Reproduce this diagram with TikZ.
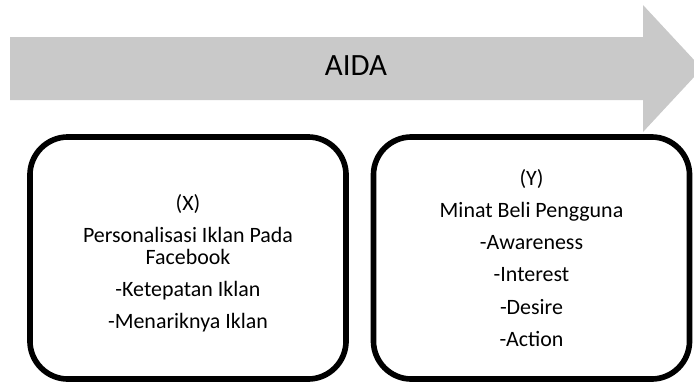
\documentclass[tikz,border=0pt]{standalone}
\usepackage{fontspec}
\setmainfont{Carlito}
\usetikzlibrary{positioning}
\definecolor{arrowgray}{RGB}{201,201,201}
\tikzset{ varbox/.style = { rectangle % variable box
        , draw = black
        , line width = 4pt
        , rounded corners = 0.95cm
        , minimum width = 7.9cm
        , minimum height = 6.05cm
        , align = center
        , font = \fontsize{15.6pt}{15.6pt}\selectfont
        }
        , title/.style = { rectangle % arrow title
        , font = \fontsize{22pt}{26pt}\selectfont
        }
        }

\begin{document}
\begin{tikzpicture}[x=0.025cm, y=-0.025cm,
        arrow_style/.style={fill=arrowgray, draw=none}]
        \clip (0,0) rectangle (694,382);

        % big process arrow
        \fill [arrow_style] (10,37) -- (643,37) -- (643,5) -- (702,68.5)
              -- (643,132) -- (643,100) -- (10,100) -- cycle;
        \node [title](aida) at (356,66) {AIDA};

        \node [varbox](x) at (188,258) {\rule{0pt}{19pt}(X)\\[7.2pt]
              Personalisasi Iklan Pada\\ Facebook\\[7.2pt]
              -Ketepatan Iklan\\[7.2pt]
              -Menariknya Iklan};
        \node [varbox](y) at (531.5,258) {(Y)\\[7.2pt]
              Minat Beli Pengguna\\[7.2pt]
              -Awareness\\[7.2pt]
              -Interest\\[7.2pt]
              -Desire\\[7.2pt]
              -Action};
\end{tikzpicture}
\end{document}
